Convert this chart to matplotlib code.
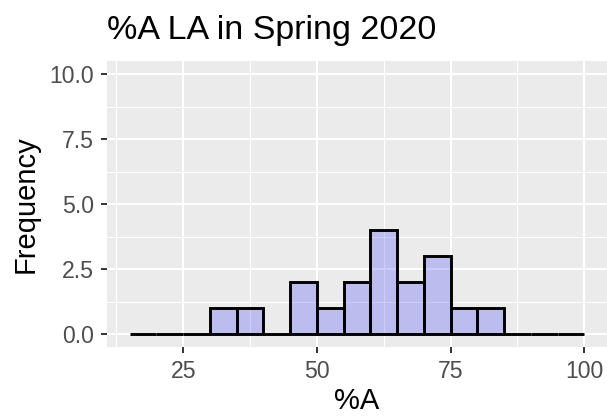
import matplotlib
matplotlib.use("Agg")
import matplotlib.pyplot as plt
import numpy as np

# histogram of %A, bins of width 5 from 15 to 100
bin_edges = [15, 20, 25, 30, 35, 40, 45, 50, 55, 60, 65, 70, 75, 80, 85, 90, 95, 100]
counts = [0, 0, 0, 1, 1, 0, 2, 1, 2, 4, 2, 3, 1, 1, 0, 0, 0]

x_ticks = [25, 50, 75, 100]
y_ticks = [0.0, 2.5, 5.0, 7.5, 10.0]

plt.rcParams['font.family'] = ['Liberation Sans', 'DejaVu Sans']

fig = plt.figure(figsize=(6.07, 4.16), dpi=100)
ax = fig.add_axes([107 / 607, 1 - 347 / 416, 500 / 607, 286 / 416])
ax.set_facecolor('#EBEBEB')

lefts = np.array(bin_edges[:-1])
widths = np.diff(bin_edges)
ax.bar(lefts, counts, width=widths, align='edge',
       facecolor=(0, 0, 1, 0.2), edgecolor='black', linewidth=2.1, zorder=3)

ax.set_xlim(10.75, 104.25)
ax.set_ylim(-0.5, 10.5)
ax.set_xticks(x_ticks)
ax.set_xticklabels([str(t) for t in x_ticks])
ax.set_yticks(y_ticks)
ax.set_yticklabels(['%.1f' % t for t in y_ticks])
ax.set_xticks([12.5, 37.5, 62.5, 87.5], minor=True)
ax.set_yticks([1.25, 3.75, 6.25, 8.75], minor=True)

ax.grid(which='major', color='white', linewidth=1.5, zorder=1)
ax.grid(which='minor', color='white', linewidth=0.75, zorder=1)
ax.set_axisbelow(True)
for s in ax.spines.values():
    s.set_visible(False)

ax.tick_params(which='major', length=4, width=1.4, color='#333333',
               labelcolor='#4D4D4D', labelsize=16.6, pad=5.5)
ax.tick_params(which='minor', length=0)

ax.set_xlabel('%A', fontsize=21, color='black', labelpad=3)
ax.set_ylabel('Frequency', fontsize=21, color='black', labelpad=7)
ax.set_title('%A LA in Spring 2020', fontsize=24.5, loc='left', pad=15.5)

fig.savefig('out.png', dpi=100)
